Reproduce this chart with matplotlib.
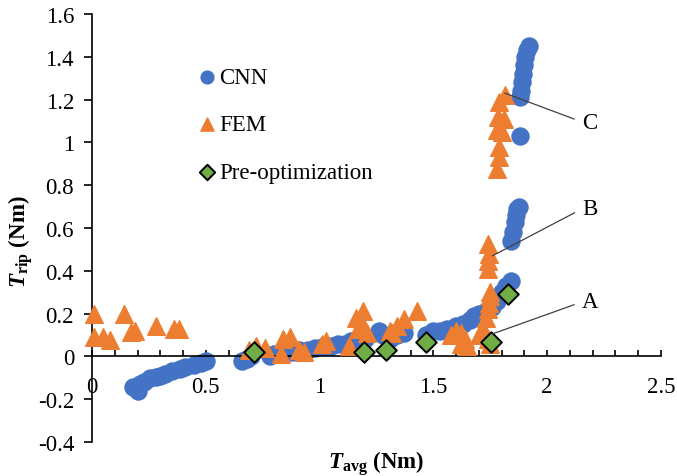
import numpy as np
import matplotlib
matplotlib.use('Agg')
import matplotlib.pyplot as plt
from matplotlib.ticker import MultipleLocator

plt.rcParams['font.family'] = ['Liberation Serif', 'DejaVu Serif']
plt.rcParams['mathtext.fontset'] = 'custom'
plt.rcParams['mathtext.rm'] = 'Liberation Serif'
plt.rcParams['mathtext.it'] = 'Liberation Serif:italic'
plt.rcParams['mathtext.bf'] = 'Liberation Serif:bold'
plt.rcParams['mathtext.bfit'] = 'Liberation Serif:italic:bold'

# CNN predictions
cnn_x = [0.18, 0.20, 0.21, 0.23, 0.255, 0.28, 0.30, 0.32, 0.35, 0.385, 0.41, 0.45, 0.48, 0.50,
         0.66, 0.68, 0.70, 0.78, 0.80, 0.85, 0.88, 0.91, 0.95, 0.98, 1.02, 1.05, 1.08, 1.11, 1.14,
         1.18, 1.20, 1.26, 1.28, 1.31, 1.34, 1.37, 1.47, 1.50, 1.53, 1.56, 1.60, 1.63, 1.66, 1.68,
         1.70, 1.73, 1.76, 1.78, 1.80, 1.82, 1.84,
         1.84, 1.85, 1.86, 1.865, 1.87, 1.875,
         1.88,
         1.88, 1.885, 1.89, 1.895, 1.90, 1.905, 1.91, 1.92]
cnn_y = [-0.145, -0.16, -0.13, -0.12, -0.10, -0.095, -0.09, -0.08, -0.07, -0.06, -0.05, -0.04, -0.03, -0.02,
         -0.02, -0.01, 0.0, 0.0, 0.01, 0.02, 0.02, 0.03, 0.03, 0.04, 0.05, 0.05, 0.06, 0.06, 0.07,
         0.09, 0.08, 0.12, 0.10, 0.08, 0.10, 0.11, 0.10, 0.12, 0.12, 0.13, 0.14, 0.15, 0.17, 0.19,
         0.20, 0.21, 0.23, 0.26, 0.30, 0.33, 0.35,
         0.54, 0.58, 0.63, 0.66, 0.69, 0.70,
         1.03,
         1.21, 1.24, 1.28, 1.32, 1.36, 1.40, 1.43, 1.45]

# FEM results
fem_x = [0.01, 0.14, 0.01, 0.05, 0.08, 0.17, 0.19, 0.28, 0.36, 0.38,
         0.69, 0.72, 0.76, 0.84, 0.87, 0.83, 0.91, 0.93, 1.01, 1.03,
         1.13, 1.16, 1.19, 1.17, 1.19, 1.21, 1.31, 1.32, 1.34, 1.37, 1.43,
         1.58, 1.60, 1.62, 1.64, 1.62, 1.65,
         1.70, 1.72, 1.73, 1.74, 1.745, 1.75, 1.75, 1.74, 1.75,
         1.74, 1.74, 1.745, 1.74,
         1.78, 1.79, 1.79, 1.78, 1.80, 1.785, 1.81, 1.79, 1.815]
fem_y = [0.20, 0.20, 0.09, 0.09, 0.075, 0.115, 0.12, 0.14, 0.13, 0.13,
         0.03, 0.05, 0.04, 0.08, 0.09, 0.01, 0.03, 0.02, 0.06, 0.07,
         0.05, 0.18, 0.21, 0.13, 0.14, 0.11, 0.12, 0.11, 0.14, 0.175, 0.21,
         0.10, 0.12, 0.11, 0.08, 0.06, 0.05,
         0.10, 0.13, 0.18, 0.22, 0.25, 0.28, 0.30, 0.08, 0.06,
         0.41, 0.445, 0.48, 0.525,
         0.875, 0.93, 0.98, 1.06, 1.05, 1.12, 1.11, 1.19, 1.22]

# pre-optimization designs
pre_x = [0.71, 1.195, 1.29, 1.47, 1.755, 1.83]
pre_y = [0.02, 0.02, 0.03, 0.065, 0.065, 0.29]

# labelled designs
ann_labels = ['A', 'B', 'C']
ann_pts = [(1.76, 0.105), (1.76, 0.47), (1.815, 1.23)]
ann_txt = [(2.155, 0.255), (2.155, 0.69), (2.155, 1.095)]

fs = 16.5

fig = plt.figure(figsize=(6.77, 4.77), dpi=100)
ax = fig.add_axes([0.136, 0.0713, 0.84, 0.8973])

ax.scatter(cnn_x, cnn_y, s=150, marker='o', color='#4472C4', label='CNN', zorder=2, clip_on=False)
ax.scatter(fem_x, fem_y, s=160, marker='^', color='#ED7D31', label='FEM', zorder=3, clip_on=False)
ax.scatter(pre_x, pre_y, s=110, marker='D', color='#70AD47', edgecolor='black', linewidth=1.4,
           label='Pre-optimization', zorder=4)

for lab, p, t in zip(ann_labels, ann_pts, ann_txt):
    ax.annotate(lab, xy=p, xytext=t, fontsize=fs, ha='left', va='center',
                arrowprops=dict(arrowstyle='-', color='#404040', lw=0.9,
                                relpos=(0, 0.5), shrinkA=4, shrinkB=0), zorder=5)

ax.set_xlim(0, 2.5)
ax.set_ylim(-0.4, 1.6)
ax.spines['top'].set_visible(False)
ax.spines['right'].set_visible(False)
ax.spines['bottom'].set_position(('data', 0))
ax.spines['left'].set_linewidth(1.2)
ax.spines['bottom'].set_linewidth(1.2)

ax.xaxis.set_minor_locator(MultipleLocator(0.1))
ax.set_xticks([0, 0.5, 1, 1.5, 2, 2.5])
ax.set_xticklabels(['0', '0.5', '1', '1.5', '2', '2.5'])
ax.set_yticks(np.round(np.arange(-0.4, 1.61, 0.2), 1))
ax.set_yticklabels(['-0.4', '-0.2', '0', '0.2', '0.4', '0.6', '0.8', '1', '1.2', '1.4', '1.6'])
ax.tick_params(axis='x', which='both', direction='in', length=4, width=1.2, pad=14, labelsize=fs)
ax.tick_params(axis='y', direction='out', length=6, width=1.2, pad=7, labelsize=fs)

ax.set_xlabel(r'$\mathbfit{T}_{\mathbf{avg}}$ (Nm)', fontsize=fs, fontweight='bold')
ax.xaxis.set_label_coords(0.5, -0.015)
ax.set_ylabel(r'$\mathbfit{T}_{\mathbf{rip}}$ (Nm)', fontsize=fs, fontweight='bold')
ax.yaxis.set_label_coords(-0.1, 0.47)

ax.legend(loc='upper left', bbox_to_anchor=(0.145, 0.925), frameon=False, fontsize=fs,
          labelspacing=1.15, handletextpad=0.05, handlelength=1.0, markerscale=0.75)

plt.savefig('out.png', dpi=100)
